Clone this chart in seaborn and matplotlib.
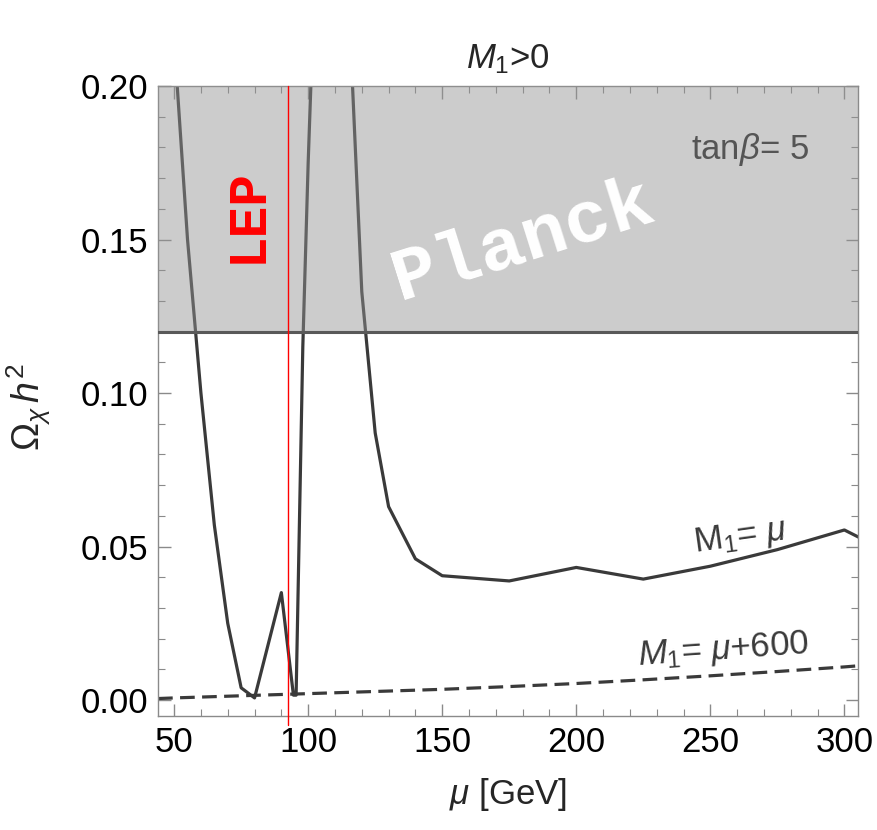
import numpy as np
import pandas as pd
import matplotlib
matplotlib.use("Agg")
import matplotlib.pyplot as plt
from matplotlib.ticker import MultipleLocator
import seaborn as sns

# datos
mu_m1 = [45, 50, 55, 60, 65, 70, 75, 80, 90, 94.5, 95.5, 98, 100, 102, 108,
         115, 120, 125, 130, 140, 150, 175, 200, 225, 250, 275, 300, 310]
omega_m1 = [0.30, 0.215, 0.15, 0.10, 0.057, 0.025, 0.004, 0.0007, 0.035, 0.0016,
            0.0016, 0.115, 0.175, 0.225, 0.40, 0.23, 0.133, 0.087, 0.063,
            0.046, 0.0405, 0.0388, 0.0432, 0.0394, 0.0436, 0.049, 0.0554, 0.051]

mu_m600 = [44, 50, 75, 100, 125, 150, 175, 200, 225, 250, 275, 300, 310]
omega_m600 = [0.0005, 0.0007, 0.0014, 0.0021, 0.0028, 0.0035, 0.0044, 0.0054,
              0.0066, 0.0079, 0.0093, 0.0108, 0.0115]

planck_min = 0.12
lep_mu = 92.5

# estilo
sns.set_theme(style="ticks")
plt.rcParams["font.family"] = ["Liberation Sans", "DejaVu Sans"]
plt.rcParams["mathtext.fontset"] = "custom"
plt.rcParams["mathtext.rm"] = "Liberation Sans"
plt.rcParams["mathtext.it"] = "Liberation Sans:italic"
plt.rcParams["mathtext.bf"] = "Liberation Sans:bold"

fig = plt.figure(figsize=(8.77, 8.30), dpi=100)
ax = fig.add_axes([0.1805, 0.1373, 0.7982, 0.7591])

dark = "#3a3a3a"
sns.lineplot(x=mu_m1, y=omega_m1, ax=ax, sort=False, estimator=None,
             color=dark, lw=2.3, zorder=2)
sns.lineplot(x=mu_m600, y=omega_m600, ax=ax, sort=False, estimator=None,
             color=dark, lw=2.3, zorder=2)
ax.lines[-1].set_linestyle((0, (4.6, 2.3)))

# banda Planck
ax.axhspan(planck_min, 0.2, color="#939393", alpha=0.47, lw=0, zorder=3)
ax.axhline(planck_min, color="#595959", lw=2.2, zorder=4)
ax.axvline(lep_mu, ymin=-0.015, ymax=1, color="red", lw=1.0, zorder=5,
           clip_on=False)

ax.set_xlim(44.1, 305.2)
ax.set_ylim(-0.0052, 0.2)
ax.xaxis.set_major_locator(MultipleLocator(50))
ax.xaxis.set_minor_locator(MultipleLocator(10))
ax.yaxis.set_major_locator(MultipleLocator(0.05))
ax.yaxis.set_minor_locator(MultipleLocator(0.01))
ax.yaxis.set_major_formatter(plt.FormatStrFormatter("%.2f"))

for s in ax.spines.values():
    s.set_color("#8a8a8a")
    s.set_linewidth(1.0)
ax.tick_params(which="both", direction="in", top=True, right=True,
               color="#8a8a8a", labelsize=25, labelcolor="black")
ax.tick_params(which="major", length=9, width=1.0, pad=7)
ax.tick_params(which="minor", length=5, width=0.8)

ax.set_xlabel(r"$\mu$ [GeV]", fontsize=25)
ax.set_ylabel(r"$\Omega_\chi\, h^2$", fontsize=27)
ax.xaxis.set_label_coords(0.5, -0.095)
ax.yaxis.set_label_coords(-0.15, 0.49)
ax.set_title(r"$M_1$>0", fontsize=25, pad=13)

# textos
ax.annotate("Planck", xy=(523, 830 - 240), xycoords="figure pixels",
            ha="center", va="center", rotation=17.5, fontsize=54,
            family="Liberation Mono", weight="bold", color="white", zorder=6)
ax.annotate("LEP", xy=(248, 830 - 216), xycoords="figure pixels",
            ha="center", va="center", rotation=90, fontsize=38,
            family="Liberation Mono", weight="bold", color="red", zorder=6)
ax.annotate(r"tan$\beta$= 5", xy=(750, 830 - 149), xycoords="figure pixels",
            ha="center", va="center", fontsize=25, color="#555555", zorder=6)
ax.annotate(r"M$_1$= $\mu$", xy=(740, 830 - 537), xycoords="figure pixels",
            ha="center", va="center", rotation=8, fontsize=25, color=dark)
ax.annotate(r"$M_1$= $\mu$+600", xy=(723, 830 - 650), xycoords="figure pixels",
            ha="center", va="center", rotation=4, fontsize=25, color=dark)

fig.savefig("out.png", dpi=100)
